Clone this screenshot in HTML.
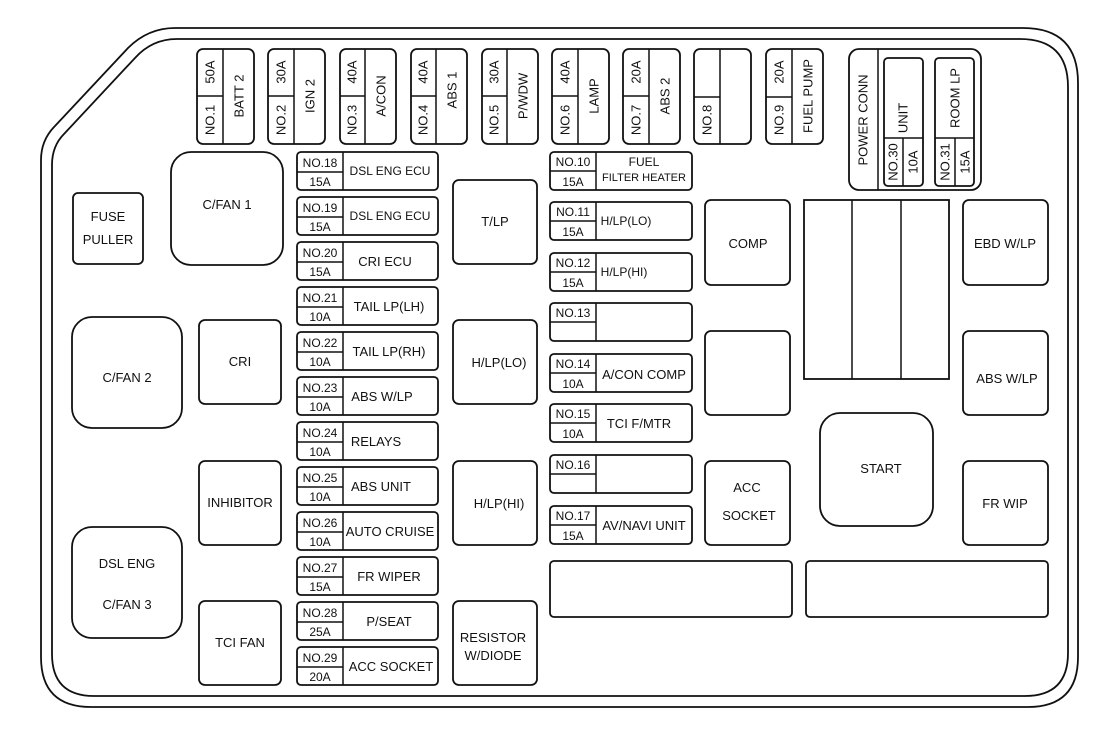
<!DOCTYPE html>
<html><head><meta charset="utf-8"><style>
html,body{margin:0;padding:0;background:#fff;}
svg{display:block;}
text{font-family:"Liberation Sans",Arial,sans-serif;fill:#111;}
.b{fill:none;stroke:#111;stroke-width:1.8;}
.l{stroke:#111;stroke-width:1.5;}
.s{font-size:12px;}
.m{font-size:13px;}
</style></head><body>
<svg width="1108" height="730" viewBox="0 0 1108 730" xmlns="http://www.w3.org/2000/svg">
<!-- outer border -->
<path class="b" d="M41,160 Q41,140 55,126 L128,48 Q148,28 175,28 L1023,28 Q1078,28 1078,83 L1078,657 Q1078,707 1028,707 L91,707 Q41,707 41,657 Z"/>
<path class="b" d="M52,165 Q52,146 64,134 L135,58 Q152,39 177,39 L1020,39 Q1068,39 1068,87 L1068,653 Q1068,696 1025,696 L94,696 Q52,696 52,654 Z"/>

<!-- top fuses -->
<g text-anchor="middle" dominant-baseline="central" class="m">
<rect class="b" x="197" y="49" width="57" height="95" rx="6"/><line class="l" x1="223" y1="49" x2="223" y2="144"/><line class="l" x1="197" y1="96" x2="223" y2="96"/>
<text transform="rotate(-90 210 120)" x="210" y="120">NO.1</text><text transform="rotate(-90 210 72)" x="210" y="72">50A</text><text transform="rotate(-90 239 96)" x="239" y="96">BATT 2</text>

<rect class="b" x="268" y="49" width="57" height="95" rx="6"/><line class="l" x1="294" y1="49" x2="294" y2="144"/><line class="l" x1="268" y1="96" x2="294" y2="96"/>
<text transform="rotate(-90 281 120)" x="281" y="120">NO.2</text><text transform="rotate(-90 281 72)" x="281" y="72">30A</text><text transform="rotate(-90 310 96)" x="310" y="96">IGN 2</text>

<rect class="b" x="340" y="49" width="56" height="95" rx="6"/><line class="l" x1="365" y1="49" x2="365" y2="144"/><line class="l" x1="340" y1="96" x2="365" y2="96"/>
<text transform="rotate(-90 352 120)" x="352" y="120">NO.3</text><text transform="rotate(-90 352 72)" x="352" y="72">40A</text><text transform="rotate(-90 381 96)" x="381" y="96">A/CON</text>

<rect class="b" x="411" y="49" width="56" height="95" rx="6"/><line class="l" x1="436" y1="49" x2="436" y2="144"/><line class="l" x1="411" y1="96" x2="436" y2="96"/>
<text transform="rotate(-90 423 120)" x="423" y="120">NO.4</text><text transform="rotate(-90 423 72)" x="423" y="72">40A</text><text transform="rotate(-90 452 90)" x="452" y="90">ABS 1</text>

<rect class="b" x="482" y="49" width="56" height="95" rx="6"/><line class="l" x1="507" y1="49" x2="507" y2="144"/><line class="l" x1="482" y1="96" x2="507" y2="96"/>
<text transform="rotate(-90 494 120)" x="494" y="120">NO.5</text><text transform="rotate(-90 494 72)" x="494" y="72">30A</text><text transform="rotate(-90 523 96)" x="523" y="96">P/WDW</text>

<rect class="b" x="552" y="49" width="57" height="95" rx="6"/><line class="l" x1="578" y1="49" x2="578" y2="144"/><line class="l" x1="552" y1="96" x2="578" y2="96"/>
<text transform="rotate(-90 565 120)" x="565" y="120">NO.6</text><text transform="rotate(-90 565 72)" x="565" y="72">40A</text><text transform="rotate(-90 594 96)" x="594" y="96">LAMP</text>

<rect class="b" x="623" y="49" width="57" height="95" rx="6"/><line class="l" x1="649" y1="49" x2="649" y2="144"/><line class="l" x1="623" y1="96" x2="649" y2="96"/>
<text transform="rotate(-90 636 120)" x="636" y="120">NO.7</text><text transform="rotate(-90 636 72)" x="636" y="72">20A</text><text transform="rotate(-90 665 96)" x="665" y="96">ABS 2</text>

<rect class="b" x="694" y="49" width="57" height="95" rx="6"/><line class="l" x1="720" y1="49" x2="720" y2="144"/><line class="l" x1="694" y1="97" x2="720" y2="97"/>
<text transform="rotate(-90 707 120)" x="707" y="120">NO.8</text>

<rect class="b" x="766" y="49" width="57" height="95" rx="6"/><line class="l" x1="792" y1="49" x2="792" y2="144"/><line class="l" x1="766" y1="97" x2="792" y2="97"/>
<text transform="rotate(-90 779 120)" x="779" y="120">NO.9</text><text transform="rotate(-90 779 72)" x="779" y="72">20A</text><text transform="rotate(-90 808 96)" x="808" y="96">FUEL PUMP</text>

<!-- power conn -->
<rect class="b" x="849" y="49" width="132" height="141" rx="10"/><line class="l" x1="878" y1="49" x2="878" y2="190"/>
<text transform="rotate(-90 863 120)" x="863" y="120">POWER CONN</text>
<rect class="b" x="884" y="58" width="39" height="128" rx="4"/><line class="l" x1="884" y1="138" x2="923" y2="138"/><line class="l" x1="903" y1="138" x2="903" y2="186"/>
<text transform="rotate(-90 903 118)" x="903" y="118">UNIT</text>
<text transform="rotate(-90 893 162)" x="893" y="162">NO.30</text><text transform="rotate(-90 913 162)" x="913" y="162">10A</text>
<rect class="b" x="935" y="58" width="39" height="128" rx="4"/><line class="l" x1="935" y1="138" x2="974" y2="138"/><line class="l" x1="955" y1="138" x2="955" y2="186"/>
<text transform="rotate(-90 955 98)" x="955" y="98">ROOM LP</text>
<text transform="rotate(-90 945 162)" x="945" y="162">NO.31</text><text transform="rotate(-90 965 162)" x="965" y="162">15A</text>
</g>

<!-- relays left -->
<g class="m" text-anchor="middle">
<rect class="b" x="73" y="193" width="70" height="71" rx="5"/><text x="108" y="221">FUSE</text><text x="108" y="244">PULLER</text>
<rect class="b" x="171" y="152" width="112" height="113" rx="20"/><text x="227" y="209">C/FAN  1</text>
<rect class="b" x="72" y="317" width="110" height="111" rx="20"/><text x="127" y="382">C/FAN  2</text>
<rect class="b" x="72" y="527" width="110" height="111" rx="20"/><text x="127" y="568">DSL ENG</text><text x="127" y="609">C/FAN  3</text>
<rect class="b" x="199" y="320" width="82" height="84" rx="6"/><text x="240" y="366">CRI</text>
<rect class="b" x="199" y="461" width="82" height="84" rx="6"/><text x="240" y="507">INHIBITOR</text>
<rect class="b" x="199" y="601" width="82" height="84" rx="6"/><text x="240" y="647">TCI FAN</text>

<rect class="b" x="453" y="180" width="84" height="84" rx="6"/><text x="495" y="226">T/LP</text>
<rect class="b" x="453" y="320" width="84" height="84" rx="6"/><text x="499" y="367">H/LP(LO)</text>
<rect class="b" x="453" y="461" width="84" height="84" rx="6"/><text x="499" y="508">H/LP(HI)</text>
<rect class="b" x="453" y="601" width="84" height="84" rx="6"/><text x="493" y="642">RESISTOR</text><text x="493" y="660">W/DIODE</text>

<rect class="b" x="705" y="200" width="85" height="85" rx="6"/><text x="748" y="248">COMP</text>
<rect class="b" x="705" y="331" width="85" height="84" rx="6"/>
<rect class="b" x="705" y="461" width="85" height="84" rx="6"/><text x="747" y="492">ACC</text><text x="749" y="520">SOCKET</text>
<rect class="b" x="804" y="200" width="145" height="179"/><line class="l" x1="852" y1="200" x2="852" y2="379"/><line class="l" x1="901" y1="200" x2="901" y2="379"/>
<rect class="b" x="820" y="413" width="113" height="113" rx="20"/><text x="881" y="473">START</text>
<rect class="b" x="963" y="200" width="85" height="85" rx="6"/><text x="1005" y="248">EBD W/LP</text>
<rect class="b" x="963" y="331" width="85" height="84" rx="6"/><text x="1007" y="383">ABS W/LP</text>
<rect class="b" x="963" y="461" width="85" height="84" rx="6"/><text x="1005" y="508">FR WIP</text>
<rect class="b" x="550" y="561" width="242" height="56" rx="4"/>
<rect class="b" x="806" y="561" width="242" height="56" rx="4"/>
</g>

<!-- fuse column 1 -->
<g class="s">
<g text-anchor="middle">
<rect class="b" x="297" y="152" width="141" height="38" rx="4"/><line class="l" x1="343" y1="152" x2="343" y2="190"/><line class="l" x1="297" y1="172" x2="343" y2="172"/><text x="320" y="167">NO.18</text><text x="320" y="186">15A</text><text x="390" y="175">DSL ENG ECU</text>
<rect class="b" x="297" y="197" width="141" height="38" rx="4"/><line class="l" x1="343" y1="197" x2="343" y2="235"/><line class="l" x1="297" y1="217" x2="343" y2="217"/><text x="320" y="212">NO.19</text><text x="320" y="231">15A</text><text x="390" y="220">DSL ENG ECU</text>
<rect class="b" x="297" y="242" width="141" height="38" rx="4"/><line class="l" x1="343" y1="242" x2="343" y2="280"/><line class="l" x1="297" y1="262" x2="343" y2="262"/><text x="320" y="257">NO.20</text><text x="320" y="276">15A</text><text x="385" y="266" font-size="13">CRI  ECU</text>
<rect class="b" x="297" y="287" width="141" height="38" rx="4"/><line class="l" x1="343" y1="287" x2="343" y2="325"/><line class="l" x1="297" y1="307" x2="343" y2="307"/><text x="320" y="302">NO.21</text><text x="320" y="321">10A</text><text x="389" y="311" font-size="13">TAIL LP(LH)</text>
<rect class="b" x="297" y="332" width="141" height="38" rx="4"/><line class="l" x1="343" y1="332" x2="343" y2="370"/><line class="l" x1="297" y1="352" x2="343" y2="352"/><text x="320" y="347">NO.22</text><text x="320" y="366">10A</text><text x="389" y="356" font-size="13">TAIL LP(RH)</text>
<rect class="b" x="297" y="377" width="141" height="38" rx="4"/><line class="l" x1="343" y1="377" x2="343" y2="415"/><line class="l" x1="297" y1="397" x2="343" y2="397"/><text x="320" y="392">NO.23</text><text x="320" y="411">10A</text><text x="382" y="401" font-size="13">ABS W/LP</text>
<rect class="b" x="297" y="422" width="141" height="38" rx="4"/><line class="l" x1="343" y1="422" x2="343" y2="460"/><line class="l" x1="297" y1="442" x2="343" y2="442"/><text x="320" y="437">NO.24</text><text x="320" y="456">10A</text><text x="376" y="446" font-size="13">RELAYS</text>
<rect class="b" x="297" y="467" width="141" height="38" rx="4"/><line class="l" x1="343" y1="467" x2="343" y2="505"/><line class="l" x1="297" y1="487" x2="343" y2="487"/><text x="320" y="482">NO.25</text><text x="320" y="501">10A</text><text x="381" y="491" font-size="13">ABS UNIT</text>
<rect class="b" x="297" y="512" width="141" height="38" rx="4"/><line class="l" x1="343" y1="512" x2="343" y2="550"/><line class="l" x1="297" y1="532" x2="343" y2="532"/><text x="320" y="527">NO.26</text><text x="320" y="546">10A</text><text x="390" y="536" font-size="13">AUTO CRUISE</text>
<rect class="b" x="297" y="557" width="141" height="38" rx="4"/><line class="l" x1="343" y1="557" x2="343" y2="595"/><line class="l" x1="297" y1="577" x2="343" y2="577"/><text x="320" y="572">NO.27</text><text x="320" y="591">15A</text><text x="389" y="581" font-size="13">FR WIPER</text>
<rect class="b" x="297" y="602" width="141" height="38" rx="4"/><line class="l" x1="343" y1="602" x2="343" y2="640"/><line class="l" x1="297" y1="622" x2="343" y2="622"/><text x="320" y="617">NO.28</text><text x="320" y="636">25A</text><text x="389" y="626" font-size="13">P/SEAT</text>
<rect class="b" x="297" y="647" width="141" height="38" rx="4"/><line class="l" x1="343" y1="647" x2="343" y2="685"/><line class="l" x1="297" y1="667" x2="343" y2="667"/><text x="320" y="662">NO.29</text><text x="320" y="681">20A</text><text x="391" y="671" font-size="13">ACC SOCKET</text>
</g>

<!-- fuse column 2 -->
<g text-anchor="middle">
<rect class="b" x="550" y="152" width="142" height="38" rx="4"/><line class="l" x1="596" y1="152" x2="596" y2="190"/><line class="l" x1="550" y1="171" x2="596" y2="171"/><text x="573" y="166">NO.10</text><text x="573" y="186">15A</text><text x="644" y="166">FUEL</text><text x="644" y="181" font-size="11">FILTER HEATER</text>
<rect class="b" x="550" y="202" width="142" height="38" rx="4"/><line class="l" x1="596" y1="202" x2="596" y2="240"/><line class="l" x1="550" y1="221" x2="596" y2="221"/><text x="573" y="216">NO.11</text><text x="573" y="236">15A</text><text x="626" y="225">H/LP(LO)</text>
<rect class="b" x="550" y="253" width="142" height="38" rx="4"/><line class="l" x1="596" y1="253" x2="596" y2="291"/><line class="l" x1="550" y1="272" x2="596" y2="272"/><text x="573" y="267">NO.12</text><text x="573" y="287">15A</text><text x="624" y="276">H/LP(HI)</text>
<rect class="b" x="550" y="303" width="142" height="38" rx="4"/><line class="l" x1="596" y1="303" x2="596" y2="341"/><line class="l" x1="550" y1="322" x2="596" y2="322"/><text x="573" y="317">NO.13</text>
<rect class="b" x="550" y="354" width="142" height="38" rx="4"/><line class="l" x1="596" y1="354" x2="596" y2="392"/><line class="l" x1="550" y1="373" x2="596" y2="373"/><text x="573" y="368">NO.14</text><text x="573" y="388">10A</text><text x="644" y="379" font-size="13">A/CON COMP</text>
<rect class="b" x="550" y="404" width="142" height="38" rx="4"/><line class="l" x1="596" y1="404" x2="596" y2="442"/><line class="l" x1="550" y1="423" x2="596" y2="423"/><text x="573" y="418">NO.15</text><text x="573" y="438">10A</text><text x="639" y="428" font-size="13">TCI F/MTR</text>
<rect class="b" x="550" y="455" width="142" height="38" rx="4"/><line class="l" x1="596" y1="455" x2="596" y2="493"/><line class="l" x1="550" y1="474" x2="596" y2="474"/><text x="573" y="469">NO.16</text>
<rect class="b" x="550" y="506" width="142" height="38" rx="4"/><line class="l" x1="596" y1="506" x2="596" y2="544"/><line class="l" x1="550" y1="525" x2="596" y2="525"/><text x="573" y="520">NO.17</text><text x="573" y="540">15A</text><text x="644" y="530" font-size="13">AV/NAVI UNIT</text>
</g>
</g>
</svg>
</body></html>
